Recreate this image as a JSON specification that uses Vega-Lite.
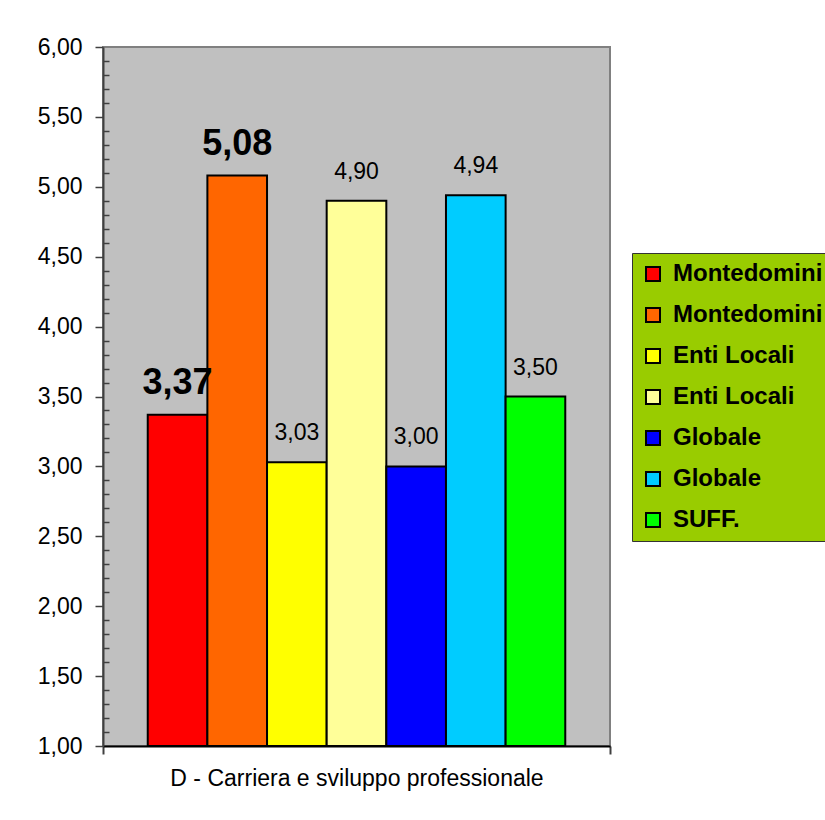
{
  "$schema": "https://vega.github.io/schema/vega-lite/v6.json",
  "width": 507,
  "height": 699,
  "autosize": {"type": "none"},
  "padding": {"left": 103, "top": 47, "right": 215, "bottom": 74},
  "background": "white",
  "config": {
    "locale": {"number": {"decimal": ",", "thousands": ".", "grouping": [3], "currency": ["", " €"]}},
    "font": "Liberation Sans",
    "view": {"fill": "#C0C0C0", "stroke": "#808080", "strokeWidth": 2}
  },
  "data": {
    "values": [
      {"cat": "D - Carriera e sviluppo professionale", "serie": "Montedomini#1", "value": 3.37},
      {"cat": "D - Carriera e sviluppo professionale", "serie": "Montedomini#2", "value": 5.08},
      {"cat": "D - Carriera e sviluppo professionale", "serie": "Enti Locali#1", "value": 3.03},
      {"cat": "D - Carriera e sviluppo professionale", "serie": "Enti Locali#2", "value": 4.90},
      {"cat": "D - Carriera e sviluppo professionale", "serie": "Globale#1", "value": 3.00},
      {"cat": "D - Carriera e sviluppo professionale", "serie": "Globale#2", "value": 4.94},
      {"cat": "D - Carriera e sviluppo professionale", "serie": "SUFF.", "value": 3.50}
    ]
  },
  "encoding": {
    "x": {
      "field": "cat", "type": "nominal",
      "scale": {"paddingInner": 0, "paddingOuter": 0},
      "axis": {
        "title": null, "labelAngle": 0, "labelFontSize": 23, "labelColor": "black",
        "labelPadding": 13, "labelLimit": 0, "tickBand": "extent", "tickSize": 8,
        "tickColor": "#404040", "tickWidth": 2, "domainColor": "black", "domainWidth": 2
      }
    },
    "xOffset": {
      "field": "serie", "type": "nominal",
      "scale": {
        "domain": ["Montedomini#1", "Montedomini#2", "Enti Locali#1", "Enti Locali#2", "Globale#1", "Globale#2", "SUFF."],
        "paddingInner": 0, "paddingOuter": 0.75
      }
    },
    "y": {
      "field": "value", "type": "quantitative",
      "scale": {"domain": [1, 6], "nice": false, "zero": false},
      "axis": {
        "title": null,
        "values": [1, 1.1, 1.2, 1.3, 1.4, 1.5, 1.6, 1.7, 1.8, 1.9, 2, 2.1, 2.2, 2.3, 2.4, 2.5, 2.6, 2.7, 2.8, 2.9, 3, 3.1, 3.2, 3.3, 3.4, 3.5, 3.6, 3.7, 3.8, 3.9, 4, 4.1, 4.2, 4.3, 4.4, 4.5, 4.6, 4.7, 4.8, 4.9, 5, 5.1, 5.2, 5.3, 5.4, 5.5, 5.6, 5.7, 5.8, 5.9, 6],
        "labelExpr": "abs(datum.value*2 - round(datum.value*2)) < 0.001 ? format(datum.value, '.2f') : ''",
        "labelFontSize": 23, "labelColor": "black", "labelPadding": 13,
        "tickSize": {"condition": {"test": "abs(datum.value*2 - round(datum.value*2)) < 0.001", "value": 8}, "value": -6},
        "tickColor": "#404040", "tickWidth": 1.5,
        "domainColor": "#404040", "domainWidth": 2, "grid": false
      }
    }
  },
  "layer": [
    {
      "mark": {"type": "bar", "stroke": "black", "strokeWidth": 2},
      "encoding": {
        "y2": {"datum": 1},
        "color": {
          "field": "serie", "type": "nominal",
          "scale": {
            "domain": ["Montedomini#1", "Montedomini#2", "Enti Locali#1", "Enti Locali#2", "Globale#1", "Globale#2", "SUFF."],
            "range": ["#FF0000", "#FF6600", "#FFFF00", "#FFFF99", "#0000FF", "#00CCFF", "#00FF00"]
          },
          "legend": {
            "title": null, "orient": "none", "legendX": 529, "legendY": 206,
            "labelExpr": "split(datum.label, '#')[0]",
            "labelFont": "Liberation Sans", "labelFontSize": 24, "labelFontWeight": "bold", "labelColor": "black",
            "labelLimit": 400, "labelOffset": 8,
            "symbolType": "square", "symbolSize": 196, "symbolStrokeColor": "black", "symbolStrokeWidth": 2,
            "fillColor": "#99CC00", "strokeColor": "#333333", "padding": 9, "rowPadding": 17
          }
        }
      }
    },
    {
      "transform": [{"filter": "indexof(datum.serie, 'Montedomini') == 0"}],
      "mark": {"type": "text", "fontSize": 36, "fontWeight": "bold", "dy": -21, "baseline": "alphabetic", "color": "black"},
      "encoding": {"text": {"field": "value", "type": "quantitative", "format": ".2f"}}
    },
    {
      "transform": [{"filter": "indexof(datum.serie, 'Montedomini') < 0"}],
      "mark": {"type": "text", "fontSize": 23, "dy": -22, "baseline": "alphabetic", "color": "black"},
      "encoding": {"text": {"field": "value", "type": "quantitative", "format": ".2f"}}
    }
  ]
}
